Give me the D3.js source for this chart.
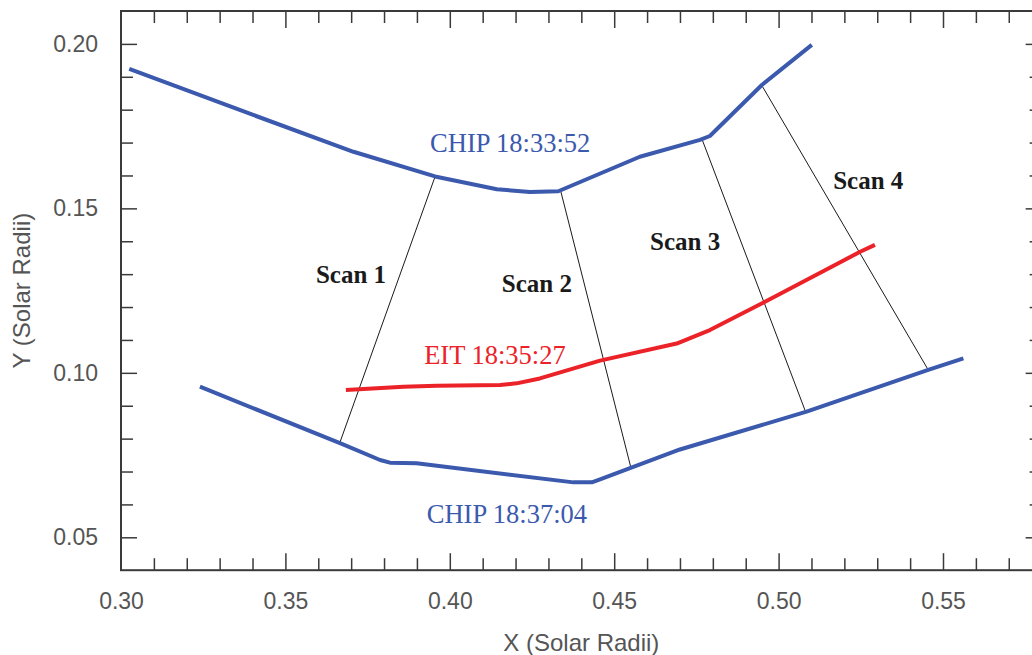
<!DOCTYPE html>
<html>
<head>
<meta charset="utf-8">
<script src="https://cdn.jsdelivr.net/npm/d3@7"></script>
<style>
  html, body { margin: 0; padding: 0; background: #fff; }
  svg { display: block; }
</style>
</head>
<body>
<svg id="chart" width="1032" height="655"></svg>
<script>
// ---- Data (solar radii) ----
const chipEarly = [ // CHIP 18:33:52
  [0.3025,0.1924],[0.3402,0.1784],[0.3707,0.1672],[0.3955,0.1597],[0.4143,0.1558],
  [0.4244,0.1550],[0.4330,0.1552],[0.4578,0.1657],[0.4761,0.1708],[0.4791,0.1720],
  [0.4949,0.1875],[0.5101,0.1997]
];
const chipLate = [ // CHIP 18:37:04
  [0.3240,0.0958],[0.3666,0.0786],[0.3788,0.0735],[0.3818,0.0727],[0.3899,0.0725],
  [0.4376,0.0667],[0.4432,0.0667],[0.4457,0.0676],[0.4548,0.0710],[0.4700,0.0767],
  [0.5085,0.0882],[0.5455,0.1009],[0.5562,0.1044]
];
const eit = [ // EIT 18:35:27
  [0.3684,0.0948],[0.3859,0.0958],[0.3960,0.0961],[0.4153,0.0963],[0.4203,0.0968],
  [0.4274,0.0983],[0.4457,0.1037],[0.4690,0.1089],[0.4791,0.1130],[0.4953,0.1213],
  [0.5248,0.1368],[0.5293,0.1389]
];
const scanTops    = [[0.3955,0.1596],[0.4337,0.1554],[0.4766,0.1713],[0.4950,0.1872]];
const scanBottoms = [[0.3666,0.0789],[0.4550,0.0715],[0.5082,0.0882],[0.5455,0.1009]];
const scanNames   = ["Scan 1","Scan 2","Scan 3","Scan 4"];
const scanLabelPos = [[0.3593,0.1274],[0.4158,0.1247],[0.4609,0.1373],[0.5166,0.1558]];
const seriesLabels = ["CHIP 18:33:52","EIT 18:35:27","CHIP 18:37:04"];
const seriesLabelPos = [[0.3940,0.1672],[0.3922,0.1026],[0.3930,0.0542]];
const xDomain = [0.30, 0.58];
const yDomain = [0.04, 0.21];
const xTickLabels = ["0.30","0.35","0.40","0.45","0.50","0.55"];
const yTickLabels = ["0.05","0.10","0.15","0.20"];
const xTitle = "X (Solar Radii)";
const yTitle = "Y (Solar Radii)";

// ---- Layout ----
const BLUE = "#3b59ad", RED = "#ec2229", AXIS = "#3a3a3a", LABEL = "#555";
const svg = d3.select("#chart");
const x = d3.scaleLinear().domain(xDomain).range([121, 121 + 0.28 * 3288]);
const y = d3.scaleLinear().domain(yDomain).range([570.2, 11]);
const x0 = x.range()[0], x1 = x.range()[1], yTop = y.range()[1], yBot = y.range()[0];

const xTicks = d3.range(31, 58).map(v => v / 100);
const yTicks = d3.range(5, 21).map(v => v / 100);
const isMajor = v => Math.abs(Math.round(v * 20) - v * 20) < 1e-6;
const fmtX = v => { const s = d3.format(".2f")(v); return xTickLabels.includes(s) ? s : ""; };
const fmtY = v => { const s = d3.format(".2f")(v); return yTickLabels.includes(s) ? s : ""; };

function styleAxis(g, majorLen, orient) {
  g.select(".domain").remove();
  g.selectAll(".tick line").attr("stroke", AXIS).attr("stroke-width", 1.5)
    .each(function(d) {
      if (isMajor(d)) {
        const el = d3.select(this);
        if (orient === "v") el.attr("y2", majorLen); else el.attr("x2", majorLen);
      }
    });
  g.selectAll(".tick text").attr("fill", LABEL)
    .style("font-family", "'Liberation Sans', Arial, sans-serif").style("font-size", "23px");
}

// bottom
svg.append("g").attr("transform", `translate(0,${yBot})`)
  .call(d3.axisBottom(x).tickValues(xTicks.concat([0.30])).tickSize(-12).tickPadding(22).tickFormat(fmtX))
  .call(g => styleAxis(g, -17, "v"));
// top
svg.append("g").attr("transform", `translate(0,${yTop})`)
  .call(d3.axisTop(x).tickValues(xTicks).tickSize(-12).tickFormat(""))
  .call(g => styleAxis(g, 17, "v"));
// left
svg.append("g").attr("transform", `translate(${x0},0)`)
  .call(d3.axisLeft(y).tickValues(yTicks).tickSize(-12).tickPadding(23).tickFormat(fmtY))
  .call(g => styleAxis(g, 16, "h"));
// right
svg.append("g").attr("transform", `translate(${x1},0)`)
  .call(d3.axisRight(y).tickValues(yTicks).tickSize(-12).tickFormat(""))
  .call(g => styleAxis(g, -16, "h"));

// remove the tick line at 0.30 (sits on the frame)
svg.selectAll(".tick").filter(d => Math.abs(d - 0.30) < 1e-9).select("line").remove();

// frame
svg.append("rect").attr("x", x0).attr("y", yTop).attr("width", x1 - x0).attr("height", yBot - yTop)
  .attr("fill", "none").attr("stroke", AXIS).attr("stroke-width", 2);

// axis titles
svg.append("text").attr("x", (x0 + x1) / 2).attr("y", 651).attr("text-anchor", "middle")
  .attr("fill", LABEL).style("font-family", "'Liberation Sans', Arial, sans-serif").style("font-size", "24px")
  .text(xTitle);
svg.append("text").attr("transform", `translate(30,${(yTop + yBot) / 2}) rotate(-90)`).attr("text-anchor", "middle")
  .attr("fill", LABEL).style("font-family", "'Liberation Sans', Arial, sans-serif").style("font-size", "24px")
  .text(yTitle);

// plot area
const plot = svg.append("g");
const line = d3.line().x(d => x(d[0])).y(d => y(d[1]));

// scan lines
plot.selectAll("line.scan").data(scanTops).enter().append("line").attr("class", "scan")
  .attr("x1", d => x(d[0])).attr("y1", d => y(d[1]))
  .attr("x2", (d, i) => x(scanBottoms[i][0])).attr("y2", (d, i) => y(scanBottoms[i][1]))
  .attr("stroke", "#1a1a1a").attr("stroke-width", 1);

[[chipEarly, BLUE], [chipLate, BLUE], [eit, RED]].forEach(([data, col]) => {
  plot.append("path").datum(data).attr("d", line).attr("fill", "none")
    .attr("stroke", col).attr("stroke-width", 4).attr("stroke-linejoin", "round");
});

// labels
const seriesColors = [BLUE, RED, BLUE];
plot.selectAll("text.series").data(seriesLabels).enter().append("text").attr("class", "series")
  .attr("x", (d, i) => x(seriesLabelPos[i][0])).attr("y", (d, i) => y(seriesLabelPos[i][1]))
  .attr("fill", (d, i) => seriesColors[i])
  .style("font-family", "'Liberation Serif', 'Times New Roman', serif").style("font-size", "26.5px")
  .text(d => d);
plot.selectAll("text.scanlbl").data(scanNames).enter().append("text").attr("class", "scanlbl")
  .attr("x", (d, i) => x(scanLabelPos[i][0])).attr("y", (d, i) => y(scanLabelPos[i][1]))
  .attr("fill", "#1a1a1a")
  .style("font-family", "'Liberation Serif', 'Times New Roman', serif").style("font-size", "25px")
  .style("font-weight", "bold")
  .text(d => d);
</script>
</body>
</html>
